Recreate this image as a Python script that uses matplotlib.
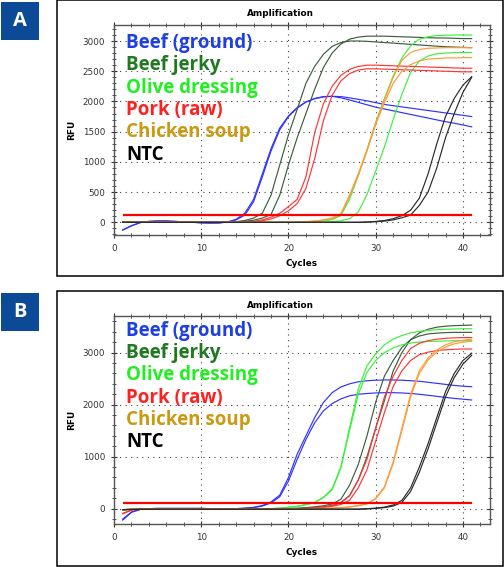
import matplotlib
matplotlib.use('Agg')  # no display
import matplotlib.pyplot as plt
from matplotlib.ticker import MultipleLocator
from matplotlib.patches import Rectangle

W, H = 504, 567

cycles = list(range(1, 42))

sample_names = ["Beef (ground)", "Beef jerky", "Olive dressing", "Pork (raw)", "Chicken soup", "NTC"]
label_colors = ["#1f3fe0", "#1f7a1f", "#22ee22", "#ff2020", "#c99a12", "#000000"]
curve_colors = ["#3030ff", "#3d5e3d", "#3cf03c", "#ff3535", "#ff9a3a", "#2a2a2a"]

# ---- Panel A: RFU per cycle (two replicates per sample) ----
beef_ground_a1 = [-130, -60, -5, 15, 22, 22, 15, 8, 0, -8, -12, -10, 5, 50, 150, 380, 800, 1220, 1560, 1760, 1900,
                  1990, 2045, 2075, 2085, 2080, 2060, 2035, 2010, 1980, 1950, 1930, 1910, 1890, 1870, 1850, 1830,
                  1810, 1790, 1770, 1750]
beef_ground_a2 = [-125, -55, -5, 15, 22, 22, 15, 8, 0, -8, -12, -10, 3, 40, 120, 340, 750, 1180, 1530, 1750, 1890,
                  1990, 2050, 2080, 2085, 2060, 2025, 1985, 1945, 1905, 1875, 1845, 1815, 1785, 1755, 1725, 1695,
                  1665, 1640, 1610, 1580]
beef_jerky_a1 = [0, 0, 0, 0, 0, 0, 0, 0, 0, 0, 0, 0, 0, 10, 30, 70, 150, 450, 950, 1450, 1870, 2300, 2580, 2780,
                 2910, 2975, 3000, 3000, 2995, 2985, 2975, 2965, 2955, 2945, 2935, 2925, 2915, 2905, 2900, 2895, 2890]
beef_jerky_a2 = [0, 0, 0, 0, 0, 0, 0, 0, 0, 0, 0, 0, 0, 5, 15, 35, 70, 130, 450, 950, 1400, 1800, 2200, 2560,
                 2800, 2950, 3030, 3065, 3080, 3080, 3080, 3075, 3070, 3065, 3060, 3055, 3050, 3050, 3045, 3040, 3040]
olive_a1 = [0, 0, 0, 0, 0, 0, 0, 0, 0, 0, 0, 0, 0, 0, 0, 0, 0, 0, 0, 0, 0, 0, 0, 20, 45, 110, 380, 770, 1200,
            1650, 2050, 2420, 2720, 2920, 3030, 3070, 3090, 3095, 3100, 3100, 3100]
olive_a2 = [0, 0, 0, 0, 0, 0, 0, 0, 0, 0, 0, 0, 0, 0, 0, 0, 0, 0, 0, 0, 0, 0, 0, 0, 10, 25, 60, 170, 460, 850,
            1250, 1700, 2120, 2480, 2670, 2750, 2790, 2800, 2810, 2810, 2810]
pork_a1 = [0, 0, 0, 0, 0, 0, 0, 0, 0, 0, 0, 0, 0, 0, 5, 15, 40, 85, 150, 260, 380, 750, 1480, 1960, 2250, 2430,
           2530, 2580, 2600, 2600, 2595, 2590, 2585, 2580, 2575, 2570, 2565, 2560, 2555, 2550, 2550]
pork_a2 = [0, 0, 0, 0, 0, 0, 0, 0, 0, 0, 0, 0, 0, 0, 3, 10, 25, 55, 110, 190, 310, 560, 1050, 1680, 2100, 2340,
           2460, 2520, 2540, 2540, 2535, 2530, 2525, 2520, 2515, 2510, 2505, 2500, 2495, 2490, 2490]
soup_a1 = [0, 0, 0, 0, 0, 0, 0, 0, 0, 0, 0, 0, 0, 0, 0, 0, 0, 0, 0, 0, 5, 10, 20, 40, 70, 140, 450, 800, 1200,
           1650, 2030, 2400, 2680, 2810, 2860, 2880, 2885, 2890, 2890, 2890, 2890]
soup_a2 = [0, 0, 0, 0, 0, 0, 0, 0, 0, 0, 0, 0, 0, 0, 0, 0, 0, 0, 0, 0, 5, 10, 20, 35, 60, 130, 430, 780, 1180,
           1620, 1980, 2300, 2500, 2610, 2670, 2700, 2710, 2720, 2720, 2725, 2725]
ntc_a1 = [0, 0, 0, 0, 0, 0, 0, 0, 0, 0, 0, 0, 0, 0, 0, 0, 0, 0, 0, 0, 0, 0, 0, 0, 0, 0, 0, 0, 5, 15, 30, 60, 110,
          200, 400, 800, 1300, 1750, 2050, 2270, 2410]
ntc_a2 = [0, 0, 0, 0, 0, 0, 0, 0, 0, 0, 0, 0, 0, 0, 0, 0, 0, 0, 0, 0, 0, 0, 0, 0, 0, 0, 0, 0, 3, 10, 20, 40, 75,
          120, 280, 500, 900, 1400, 1800, 2150, 2400]
threshold_a = 120

# ---- Panel B ----
beef_ground_b1 = [-220, -70, -15, 0, 5, 5, 5, 5, 5, 5, 0, 0, 0, 0, 10, 25, 60, 130, 260, 600, 1050, 1400, 1750,
                  2040, 2230, 2340, 2400, 2440, 2460, 2470, 2475, 2475, 2470, 2460, 2450, 2430, 2410, 2390, 2370,
                  2355, 2345]
beef_ground_b2 = [-200, -65, -15, 0, 5, 5, 5, 5, 5, 5, 0, 0, 0, 0, 8, 20, 50, 110, 230, 530, 950, 1330, 1650,
                  1880, 2020, 2110, 2170, 2200, 2215, 2225, 2230, 2230, 2225, 2215, 2200, 2180, 2160, 2140, 2120,
                  2105, 2090]
beef_jerky_b1 = [-20, -10, 0, 0, 0, 0, 0, 0, 0, 0, 0, 0, 0, 0, 0, 0, 0, 0, 0, 5, 10, 20, 35, 55, 90, 180, 450,
                 850, 1400, 2050, 2550, 2850, 3100, 3250, 3320, 3360, 3375, 3385, 3390, 3390, 3390]
beef_jerky_b2 = [-20, -10, 0, 0, 0, 0, 0, 0, 0, 0, 0, 0, 0, 0, 0, 0, 0, 0, 0, 0, 0, 10, 20, 35, 60, 120, 250,
                 550, 1000, 1550, 2080, 2650, 3000, 3250, 3380, 3450, 3490, 3510, 3520, 3525, 3530]
olive_b1 = [-30, -10, 0, 0, 0, 0, 0, 0, 0, 0, 0, 0, 0, 0, 0, 0, 0, 0, 10, 25, 45, 80, 120, 220, 380, 800, 1550,
            2300, 2750, 2980, 3150, 3260, 3330, 3380, 3410, 3430, 3440, 3450, 3455, 3460, 3460]
olive_b2 = [-30, -10, 0, 0, 0, 0, 0, 0, 0, 0, 0, 0, 0, 0, 0, 0, 0, 0, 10, 25, 45, 75, 115, 210, 360, 780, 1500,
            2200, 2620, 2850, 3000, 3090, 3150, 3185, 3205, 3215, 3220, 3225, 3230, 3230, 3230]
pork_b1 = [-100, -30, -5, 0, 0, 0, 0, 0, 0, 0, 0, 0, 0, 0, 0, 0, 0, 0, 0, 0, 0, 5, 15, 30, 60, 110, 250, 550,
           950, 1550, 2150, 2550, 2850, 3080, 3180, 3230, 3260, 3275, 3285, 3290, 3290]
pork_b2 = [-90, -25, -5, 0, 0, 0, 0, 0, 0, 0, 0, 0, 0, 0, 0, 0, 0, 0, 0, 0, 0, 3, 10, 20, 45, 80, 160, 400, 750,
           1300, 1850, 2350, 2650, 2850, 2960, 3010, 3040, 3055, 3065, 3070, 3070]
soup_b1 = [-20, -10, 0, 0, 0, 0, 0, 0, 0, 0, 0, 0, 0, 0, 0, 0, 0, 0, 0, 0, 0, 0, 0, 5, 10, 20, 35, 60, 95, 200,
           420, 900, 1550, 2200, 2650, 2900, 3050, 3150, 3210, 3240, 3260]
soup_b2 = [-20, -10, 0, 0, 0, 0, 0, 0, 0, 0, 0, 0, 0, 0, 0, 0, 0, 0, 0, 0, 0, 0, 0, 5, 10, 20, 30, 55, 90, 190,
           400, 870, 1500, 2150, 2600, 2860, 3010, 3110, 3170, 3200, 3220]
ntc_b1 = [-20, -15, -10, -10, -10, -10, -10, -10, -10, -10, -10, -10, -10, -10, -10, -10, -10, -10, -10, -10, -10,
          -10, -10, -10, -10, -10, -10, -10, 0, 10, 30, 70, 160, 400, 800, 1250, 1750, 2250, 2600, 2850, 2990]
ntc_b2 = [-20, -15, -10, -10, -10, -10, -10, -10, -10, -10, -10, -10, -10, -10, -10, -10, -10, -10, -10, -10, -10,
          -10, -10, -10, -10, -10, -10, -10, -5, 5, 20, 50, 120, 330, 700, 1150, 1650, 2150, 2520, 2780, 2950]
threshold_b = 110

panel_a_curves = [[beef_ground_a1, beef_ground_a2], [beef_jerky_a1, beef_jerky_a2], [olive_a1, olive_a2],
                  [pork_a1, pork_a2], [soup_a1, soup_a2], [ntc_a1, ntc_a2]]
panel_b_curves = [[beef_ground_b1, beef_ground_b2], [beef_jerky_b1, beef_jerky_b2], [olive_b1, olive_b2],
                  [pork_b1, pork_b2], [soup_b1, soup_b2], [ntc_b1, ntc_b2]]


def fx(px):
    return px / W


def fy(py):
    return 1 - py / H


fig = plt.figure(figsize=(W / 100, H / 100), dpi=100)


def draw_panel(letter, frame_top, frame_bottom, ax_top, ax_bottom, curves, threshold,
               ylim, ymajor, yminor, legend_base, legend_step):
    # outer frame and panel letter
    fig.patches.append(Rectangle((fx(57), fy(frame_bottom)), fx(446), (frame_bottom - frame_top) / H,
                                 transform=fig.transFigure, fill=False, edgecolor='black', linewidth=1.1))
    fig.patches.append(Rectangle((fx(1), fy(frame_top + 40)), fx(38), 38 / H,
                                 transform=fig.transFigure, facecolor='#0c4a97', edgecolor='none'))
    fig.text(fx(20), fy(frame_top + 21), letter, color='white', fontsize=14.5, fontweight='bold',
             family='Open Sans', ha='center', va='center')

    ax = fig.add_axes([fx(114), fy(ax_bottom), fx(490 - 114), (ax_bottom - ax_top) / H])
    for grp, col in zip(curves, curve_colors):
        for rep in grp:
            ax.plot(cycles, rep, color=col, linewidth=0.85)
    ax.hlines(threshold, 1, 41, color='#ff0000', linewidth=1.6, zorder=5)

    ax.set_xlim(0, 43.1)
    ax.set_ylim(*ylim)
    ax.xaxis.set_major_locator(MultipleLocator(10))
    ax.xaxis.set_minor_locator(MultipleLocator(2))
    ax.yaxis.set_major_locator(MultipleLocator(ymajor))
    ax.yaxis.set_minor_locator(MultipleLocator(yminor))
    ax.grid(True, which='major', color='#444444', linestyle=(0, (1, 4)), linewidth=0.8)
    ax.tick_params(which='both', direction='inout', top=True, right=True, labelsize=6.3,
                   labelcolor='#333333', color='#333333', pad=4)
    ax.tick_params(which='major', length=5)
    ax.tick_params(which='minor', length=3.5)
    for s in ax.spines.values():
        s.set_color('#555555')
        s.set_linewidth(1.0)

    fig.text(fx(280), fy(frame_top + 14), 'Amplification', fontsize=6.4, fontweight='bold', ha='center', va='center')
    fig.text(fx(302), fy(ax_bottom + 28.5), 'Cycles', fontsize=6.4, fontweight='bold', ha='center', va='center')
    fig.text(fx(71.5), fy((ax_top + ax_bottom) / 2), 'RFU', fontsize=6.4, fontweight='bold', rotation=90,
             ha='center', va='center')

    for i, (name, col) in enumerate(zip(sample_names, label_colors)):
        fig.text(fx(126.5), fy(legend_base + i * legend_step), name, color=col, fontsize=13.5,
                 fontweight='bold', family='Open Sans', ha='left', va='baseline')


draw_panel('A', 0, 276, 25, 235, panel_a_curves, threshold_a, (-210, 3265), 500, 100, 47.7, 22.4)
draw_panel('B', 291, 566, 316, 524, panel_b_curves, threshold_b, (-295, 3705), 1000, 200, 335.7, 22.3)

fig.savefig('out.png', dpi=100)
